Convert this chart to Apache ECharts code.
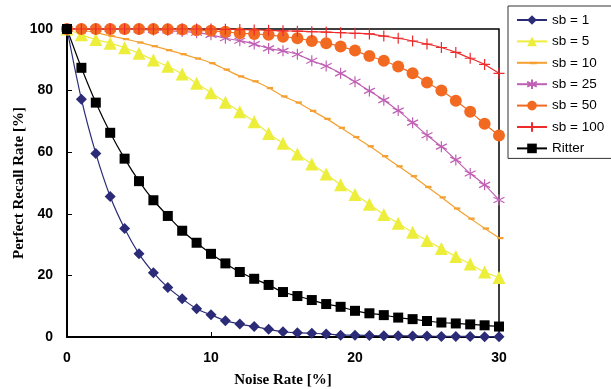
<!DOCTYPE html>
<html>
<head>
<meta charset="utf-8">
<script src="https://cdn.jsdelivr.net/npm/echarts@6/dist/echarts.min.js"></script>
<style>
  html, body { margin: 0; padding: 0; background: #fff; }
  #chart { width: 611px; height: 389px; }
</style>
</head>
<body>
<div id="chart"></div>
<script>
// noise rate [%]
const noise = [0, 1, 2, 3, 4, 5, 6, 7, 8, 9, 10, 11, 12, 13, 14, 15, 16, 17, 18, 19, 20,
  21, 22, 23, 24, 25, 26, 27, 28, 29, 30];

const sb1 = [100, 77.2, 59.6, 45.6, 35.2, 27.0, 20.9, 16.1, 12.4, 9.2, 7.2, 5.3, 4.2, 3.4, 2.5,
  1.7, 1.4, 1.2, 1.0, 0.6, 0.6, 0.5, 0.4, 0.4, 0.3, 0.3, 0.2, 0.2, 0.2, 0.1, 0.1];
const sb5 = [100, 98.1, 96.6, 95.4, 93.9, 92.1, 89.9, 87.9, 85.4, 82.4, 79.3, 76.2, 73.1, 69.9,
  66.1, 62.9, 59.4, 56.2, 52.9, 49.4, 46.3, 43.1, 39.8, 36.9, 34.0, 31.3, 28.7, 26.1, 23.7, 21.1, 19.3];
const sb10 = [100, 99.6, 98.8, 97.8, 96.8, 95.7, 94.5, 93.2, 91.9, 90.5, 89.0, 86.9, 84.7, 83.1,
  80.9, 78.2, 76.2, 73.5, 70.9, 68.0, 65.0, 62.0, 58.8, 55.5, 52.3, 48.8, 45.4, 41.8, 38.5, 35.3, 32.2];
const sb25 = [100, 100, 100, 100, 99.9, 99.8, 99.7, 99.5, 99.2, 98.8, 98.1, 97.0, 96.2, 95.1, 93.7,
  92.9, 91.8, 89.7, 88.0, 85.6, 82.9, 79.9, 76.9, 73.5, 69.6, 65.5, 61.8, 57.5, 53.1, 49.4, 44.5];
const sb50 = [100, 100, 100, 100, 100, 100, 100, 99.9, 99.8, 99.6, 99.4, 99.1, 98.6, 98.4, 98.1,
  97.5, 97.0, 96.1, 95.4, 94.3, 93.0, 91.2, 89.7, 87.8, 85.6, 82.6, 80.0, 76.7, 73.1, 69.2, 65.4];
const sb100 = [100, 100, 100, 100, 100, 100, 100, 100, 100, 100, 100, 99.9, 99.8, 99.7, 99.6,
  99.4, 99.3, 99.1, 99.0, 98.8, 98.6, 98.4, 97.7, 97.0, 96.1, 95.1, 94.0, 92.4, 90.5, 88.5, 85.6];
const ritter = [100, 87.4, 76.1, 66.3, 57.9, 50.6, 44.4, 39.3, 34.5, 30.6, 27.0, 23.9, 21.1, 18.9,
  16.9, 14.6, 13.3, 12.0, 10.7, 9.8, 8.5, 7.7, 7.1, 6.3, 5.8, 5.2, 4.7, 4.4, 4.1, 3.8, 3.4];

const xTicks = [0, 10, 20, 30];
const yTicks = [0, 20, 40, 60, 80, 100];

const asterisk = 'path://M5,0L5,10M0.8,2.5L9.2,7.5M9.2,2.5L0.8,7.5';
const plus = 'path://M5,0L5,10M1,5L9,5';
// short bar, padded out to a 10x10 box so it keeps its shape in the legend too
const dash = 'path://M0,0L0,0M3,4L10,4L10,6.5L3,6.5ZM10,10L10,10';

const chart = echarts.init(document.getElementById('chart'));

const pts = (arr) => noise.map((x, i) => [x, arr[i]]);

function line(name, arr, color, symbol, size, extra) {
  return Object.assign({
    name: name,
    type: 'line',
    data: pts(arr),
    smooth: 0.3,
    clip: false,
    symbol: symbol,
    symbolSize: size,
    showAllSymbol: true,
    lineStyle: { color: color, width: 1.2 },
    itemStyle: { color: color, borderColor: color, borderWidth: 0 }
  }, extra || {});
}

const labelFont = { fontFamily: 'Liberation Sans', fontWeight: 'bold', fontSize: 14, color: '#000' };
const nameFont = { fontFamily: 'Liberation Serif', fontWeight: 'bold', fontSize: 15, color: '#000' };

const option = {
  backgroundColor: '#fff',
  animation: false,
  grid: {
    left: 67, right: 112, top: 29, bottom: 52,
    outerBoundsMode: 'none',
    containLabel: false,
    show: true, borderColor: '#000', borderWidth: 1.5, backgroundColor: 'transparent'
  },
  legend: {
    orient: 'vertical',
    left: 508, top: 6,
    itemWidth: 30, itemHeight: 12, itemGap: 7.4,
    padding: [7, 14, 3, 8],
    borderColor: '#333', borderWidth: 1,
    backgroundColor: '#fff',
    textStyle: { fontFamily: 'Liberation Sans', fontSize: 13.5, color: '#000' },
    data: ['sb = 1', 'sb = 5', 'sb = 10', 'sb = 25', 'sb = 50', 'sb = 100', 'Ritter']
  },
  xAxis: {
    type: 'value',
    min: 0, max: 30, interval: 10,
    name: 'Noise Rate [%]',
    nameLocation: 'middle',
    nameGap: 36,
    nameMoveOverlap: false,
    nameTextStyle: nameFont,
    axisLine: { lineStyle: { color: '#000', width: 2 } },
    axisTick: { inside: true, length: 5, lineStyle: { color: '#000' } },
    axisLabel: Object.assign({ margin: 14, formatter: (v) => xTicks.includes(v) ? String(v) : '' }, labelFont),
    splitLine: { show: false }
  },
  yAxis: {
    type: 'value',
    min: 0, max: 100, interval: 20,
    name: 'Perfect Recall Rate [%]',
    nameLocation: 'middle',
    nameGap: 40,
    nameMoveOverlap: false,
    nameTextStyle: nameFont,
    axisLine: { lineStyle: { color: '#000', width: 2 } },
    axisTick: { inside: true, length: 5, lineStyle: { color: '#000' } },
    axisLabel: Object.assign({ margin: 14, formatter: (v) => yTicks.includes(v) ? String(v) : '' }, labelFont),
    splitLine: { show: false }
  },
  series: [
    line('sb = 1', sb1, '#2B2B78', 'diamond', 11),
    line('sb = 5', sb5, '#EDED3C', 'triangle', 13),
    line('sb = 10', sb10, '#F5A030', dash, 9),
    line('sb = 25', sb25, '#C060B4', asterisk, 11, { itemStyle: { color: 'transparent', borderColor: '#C060B4', borderWidth: 1.2 } }),
    line('sb = 50', sb50, '#F26A22', 'circle', 12),
    line('sb = 100', sb100, '#EE2A2A', plus, 11, { itemStyle: { color: 'transparent', borderColor: '#EE2A2A', borderWidth: 1.2 } }),
    line('Ritter', ritter, '#000000', 'rect', 10)
  ]
};

chart.setOption(option);
</script>
</body>
</html>
